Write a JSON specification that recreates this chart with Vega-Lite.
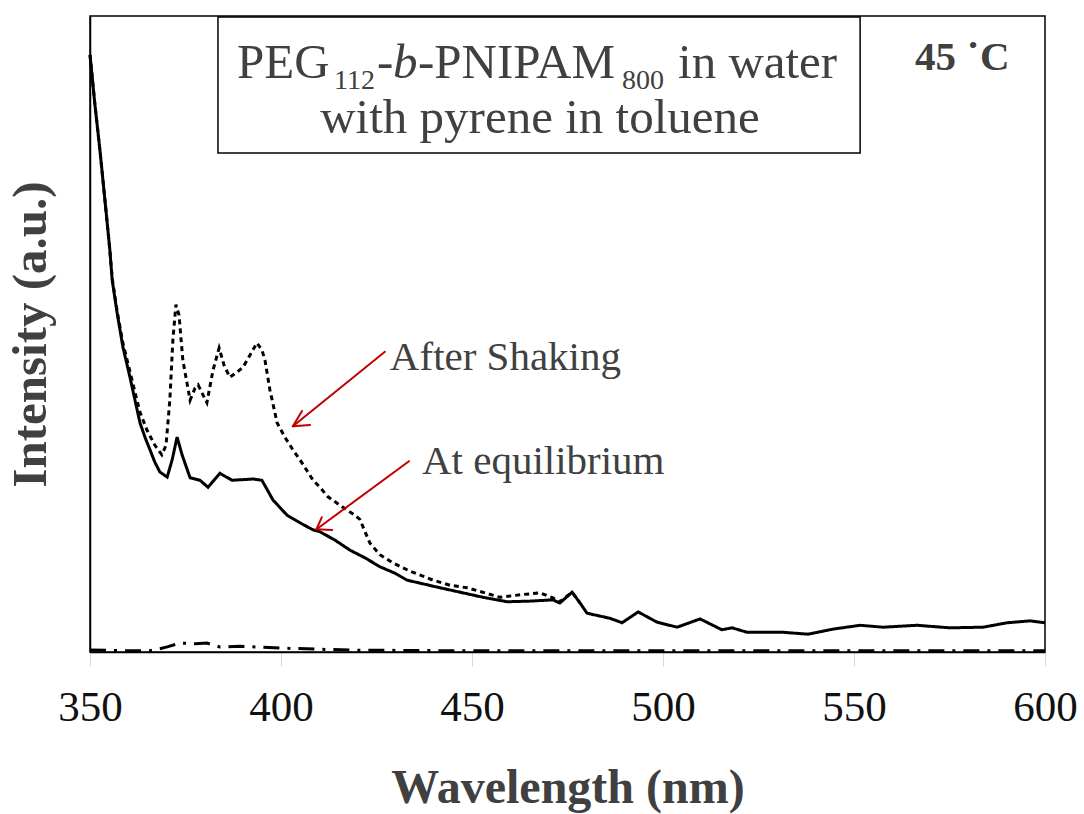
{
  "$schema": "https://vega.github.io/schema/vega-lite/v6.json",
  "autosize": {"type": "none"},
  "width": 955,
  "height": 636,
  "padding": {"left": 90, "top": 16, "right": 39, "bottom": 162},
  "background": "white",
  "config": {
    "font": "Liberation Serif",
    "view": {"stroke": "black", "strokeWidth": 1.5},
    "axis": {"grid": false}
  },
  "datasets": {
    "spectra": [
      {"series": "After Shaking", "wl": 350.0, "v": 93.9},
      {"series": "After Shaking", "wl": 351.3, "v": 86.0},
      {"series": "After Shaking", "wl": 352.6, "v": 78.9},
      {"series": "After Shaking", "wl": 353.9, "v": 71.1},
      {"series": "After Shaking", "wl": 355.2, "v": 63.2},
      {"series": "After Shaking", "wl": 355.8, "v": 58.8},
      {"series": "After Shaking", "wl": 357.1, "v": 53.6},
      {"series": "After Shaking", "wl": 358.6, "v": 48.6},
      {"series": "After Shaking", "wl": 360.5, "v": 44.0},
      {"series": "After Shaking", "wl": 362.0, "v": 40.3},
      {"series": "After Shaking", "wl": 363.1, "v": 37.7},
      {"series": "After Shaking", "wl": 364.9, "v": 34.9},
      {"series": "After Shaking", "wl": 367.0, "v": 32.5},
      {"series": "After Shaking", "wl": 368.8, "v": 31.0},
      {"series": "After Shaking", "wl": 369.9, "v": 32.5},
      {"series": "After Shaking", "wl": 370.9, "v": 39.6},
      {"series": "After Shaking", "wl": 371.7, "v": 49.1},
      {"series": "After Shaking", "wl": 372.5, "v": 54.6},
      {"series": "After Shaking", "wl": 373.3, "v": 53.0},
      {"series": "After Shaking", "wl": 374.3, "v": 45.9},
      {"series": "After Shaking", "wl": 376.2, "v": 39.6},
      {"series": "After Shaking", "wl": 377.5, "v": 41.5},
      {"series": "After Shaking", "wl": 378.3, "v": 42.0},
      {"series": "After Shaking", "wl": 379.6, "v": 40.4},
      {"series": "After Shaking", "wl": 380.6, "v": 39.2},
      {"series": "After Shaking", "wl": 382.2, "v": 44.3},
      {"series": "After Shaking", "wl": 383.8, "v": 47.8},
      {"series": "After Shaking", "wl": 385.1, "v": 45.1},
      {"series": "After Shaking", "wl": 386.6, "v": 43.2},
      {"series": "After Shaking", "wl": 388.5, "v": 44.0},
      {"series": "After Shaking", "wl": 390.1, "v": 44.8},
      {"series": "After Shaking", "wl": 391.9, "v": 46.7},
      {"series": "After Shaking", "wl": 393.7, "v": 48.6},
      {"series": "After Shaking", "wl": 395.0, "v": 47.5},
      {"series": "After Shaking", "wl": 395.8, "v": 45.9},
      {"series": "After Shaking", "wl": 397.1, "v": 41.2},
      {"series": "After Shaking", "wl": 399.0, "v": 36.0},
      {"series": "After Shaking", "wl": 401.0, "v": 33.8},
      {"series": "After Shaking", "wl": 403.1, "v": 31.8},
      {"series": "After Shaking", "wl": 405.0, "v": 30.2},
      {"series": "After Shaking", "wl": 408.4, "v": 27.0},
      {"series": "After Shaking", "wl": 410.2, "v": 25.9},
      {"series": "After Shaking", "wl": 412.3, "v": 24.4},
      {"series": "After Shaking", "wl": 415.4, "v": 23.1},
      {"series": "After Shaking", "wl": 417.3, "v": 22.3},
      {"series": "After Shaking", "wl": 419.4, "v": 21.5},
      {"series": "After Shaking", "wl": 420.7, "v": 20.8},
      {"series": "After Shaking", "wl": 422.0, "v": 18.9},
      {"series": "After Shaking", "wl": 423.3, "v": 17.1},
      {"series": "After Shaking", "wl": 425.9, "v": 15.3},
      {"series": "After Shaking", "wl": 429.3, "v": 14.0},
      {"series": "After Shaking", "wl": 433.8, "v": 12.7},
      {"series": "After Shaking", "wl": 439.8, "v": 11.3},
      {"series": "After Shaking", "wl": 444.2, "v": 10.5},
      {"series": "After Shaking", "wl": 448.7, "v": 10.1},
      {"series": "After Shaking", "wl": 453.4, "v": 9.3},
      {"series": "After Shaking", "wl": 457.3, "v": 8.6},
      {"series": "After Shaking", "wl": 462.6, "v": 9.0},
      {"series": "After Shaking", "wl": 467.8, "v": 9.3},
      {"series": "After Shaking", "wl": 471.2, "v": 8.5},
      {"series": "After Shaking", "wl": 473.0, "v": 7.9},
      {"series": "After Shaking", "wl": 476.2, "v": 9.4},
      {"series": "After Shaking", "wl": 478.3, "v": 7.7},
      {"series": "At equilibrium", "wl": 350.0, "v": 93.9},
      {"series": "At equilibrium", "wl": 351.3, "v": 86.0},
      {"series": "At equilibrium", "wl": 352.6, "v": 78.9},
      {"series": "At equilibrium", "wl": 353.9, "v": 71.1},
      {"series": "At equilibrium", "wl": 355.2, "v": 63.2},
      {"series": "At equilibrium", "wl": 355.8, "v": 58.5},
      {"series": "At equilibrium", "wl": 357.1, "v": 53.3},
      {"series": "At equilibrium", "wl": 358.6, "v": 48.0},
      {"series": "At equilibrium", "wl": 360.5, "v": 43.1},
      {"series": "At equilibrium", "wl": 362.0, "v": 39.0},
      {"series": "At equilibrium", "wl": 363.1, "v": 36.0},
      {"series": "At equilibrium", "wl": 364.5, "v": 33.6},
      {"series": "At equilibrium", "wl": 365.7, "v": 31.8},
      {"series": "At equilibrium", "wl": 367.0, "v": 29.8},
      {"series": "At equilibrium", "wl": 368.3, "v": 28.3},
      {"series": "At equilibrium", "wl": 370.2, "v": 27.5},
      {"series": "At equilibrium", "wl": 371.5, "v": 30.2},
      {"series": "At equilibrium", "wl": 372.8, "v": 33.8},
      {"series": "At equilibrium", "wl": 374.1, "v": 31.0},
      {"series": "At equilibrium", "wl": 376.2, "v": 27.4},
      {"series": "At equilibrium", "wl": 378.8, "v": 27.0},
      {"series": "At equilibrium", "wl": 380.9, "v": 25.9},
      {"series": "At equilibrium", "wl": 384.0, "v": 28.1},
      {"series": "At equilibrium", "wl": 387.2, "v": 27.0},
      {"series": "At equilibrium", "wl": 392.7, "v": 27.2},
      {"series": "At equilibrium", "wl": 395.0, "v": 27.0},
      {"series": "At equilibrium", "wl": 397.9, "v": 23.9},
      {"series": "At equilibrium", "wl": 401.6, "v": 21.5},
      {"series": "At equilibrium", "wl": 405.0, "v": 20.3},
      {"series": "At equilibrium", "wl": 408.4, "v": 19.2},
      {"series": "At equilibrium", "wl": 410.2, "v": 18.9},
      {"series": "At equilibrium", "wl": 414.1, "v": 17.6},
      {"series": "At equilibrium", "wl": 418.1, "v": 16.0},
      {"series": "At equilibrium", "wl": 422.0, "v": 14.8},
      {"series": "At equilibrium", "wl": 425.9, "v": 13.4},
      {"series": "At equilibrium", "wl": 429.8, "v": 12.4},
      {"series": "At equilibrium", "wl": 433.0, "v": 11.3},
      {"series": "At equilibrium", "wl": 441.6, "v": 10.1},
      {"series": "At equilibrium", "wl": 446.9, "v": 9.4},
      {"series": "At equilibrium", "wl": 452.9, "v": 8.6},
      {"series": "At equilibrium", "wl": 459.2, "v": 7.9},
      {"series": "At equilibrium", "wl": 465.2, "v": 8.0},
      {"series": "At equilibrium", "wl": 471.2, "v": 8.2},
      {"series": "At equilibrium", "wl": 473.0, "v": 7.7},
      {"series": "At equilibrium", "wl": 476.2, "v": 9.4},
      {"series": "At equilibrium", "wl": 478.3, "v": 7.7},
      {"series": "At equilibrium", "wl": 480.1, "v": 6.1},
      {"series": "At equilibrium", "wl": 486.1, "v": 5.3},
      {"series": "At equilibrium", "wl": 489.3, "v": 4.6},
      {"series": "At equilibrium", "wl": 493.5, "v": 6.3},
      {"series": "At equilibrium", "wl": 498.4, "v": 4.7},
      {"series": "At equilibrium", "wl": 503.7, "v": 3.9},
      {"series": "At equilibrium", "wl": 509.7, "v": 5.2},
      {"series": "At equilibrium", "wl": 515.4, "v": 3.5},
      {"series": "At equilibrium", "wl": 518.1, "v": 3.8},
      {"series": "At equilibrium", "wl": 522.0, "v": 3.1},
      {"series": "At equilibrium", "wl": 531.4, "v": 3.1},
      {"series": "At equilibrium", "wl": 538.0, "v": 2.8},
      {"series": "At equilibrium", "wl": 544.5, "v": 3.6},
      {"series": "At equilibrium", "wl": 551.6, "v": 4.2},
      {"series": "At equilibrium", "wl": 557.6, "v": 3.9},
      {"series": "At equilibrium", "wl": 566.5, "v": 4.2},
      {"series": "At equilibrium", "wl": 575.1, "v": 3.8},
      {"series": "At equilibrium", "wl": 583.8, "v": 3.9},
      {"series": "At equilibrium", "wl": 590.1, "v": 4.6},
      {"series": "At equilibrium", "wl": 596.1, "v": 4.9},
      {"series": "At equilibrium", "wl": 600.0, "v": 4.6},
      {"series": "Blank", "wl": 350.0, "v": 0.3},
      {"series": "Blank", "wl": 359.7, "v": 0.2},
      {"series": "Blank", "wl": 365.7, "v": 0.2},
      {"series": "Blank", "wl": 368.3, "v": 0.5},
      {"series": "Blank", "wl": 370.2, "v": 0.8},
      {"series": "Blank", "wl": 373.6, "v": 1.4},
      {"series": "Blank", "wl": 377.5, "v": 1.3},
      {"series": "Blank", "wl": 380.6, "v": 1.4},
      {"series": "Blank", "wl": 384.0, "v": 0.8},
      {"series": "Blank", "wl": 389.3, "v": 0.9},
      {"series": "Blank", "wl": 400.5, "v": 0.6},
      {"series": "Blank", "wl": 418.1, "v": 0.3},
      {"series": "Blank", "wl": 444.2, "v": 0.2},
      {"series": "Blank", "wl": 500.0, "v": 0.2},
      {"series": "Blank", "wl": 600.0, "v": 0.2}
    ]
  },
  "encoding": {
    "x": {
      "type": "quantitative",
      "scale": {"domain": [350, 600], "nice": false, "zero": false},
      "axis": {
        "title": "Wavelength (nm)",
        "values": [350, 400, 450, 500, 550, 600],
        "labelFont": "Liberation Serif",
        "labelFontSize": 43,
        "labelColor": "#111111",
        "labelPadding": 20,
        "labelFlush": false,
        "labelOverlap": false,
        "tickColor": "#d9d9d9",
        "tickSize": 14,
        "tickWidth": 1,
        "domainColor": "black",
        "domainWidth": 1.5,
        "titleFont": "Liberation Serif",
        "titleFontSize": 48,
        "titleFontWeight": "bold",
        "titleColor": "#404040",
        "titlePadding": 35
      }
    },
    "y": {
      "type": "quantitative",
      "scale": {"domain": [0, 100], "nice": false},
      "axis": {
        "title": "Intensity (a.u.)",
        "labels": false,
        "ticks": false,
        "domainColor": "black",
        "domainWidth": 1.5,
        "titleFont": "Liberation Serif",
        "titleFontSize": 49,
        "titleFontWeight": "bold",
        "titleColor": "#404040",
        "titlePadding": 35
      }
    }
  },
  "layer": [
    {
      "data": {"name": "spectra"},
      "mark": {"type": "line", "color": "black", "strokeWidth": 3},
      "encoding": {
        "x": {"field": "wl", "type": "quantitative"},
        "y": {"field": "v", "type": "quantitative"},
        "strokeDash": {
          "field": "series",
          "type": "nominal",
          "scale": {"domain": ["After Shaking", "At equilibrium", "Blank"], "range": [[5, 4], [1, 0], [16, 8, 3, 8]]},
          "legend": null
        },
        "order": {"field": "wl", "type": "quantitative"}
      }
    },
    {
      "data": {"values": [{"x1": 383.5, "x2": 551.6, "y1": 78.46, "y2": 99.84}]},
      "mark": {"type": "rect", "fill": "white", "stroke": "black", "strokeWidth": 1.5},
      "encoding": {
        "x": {"field": "x1", "type": "quantitative"},
        "x2": {"field": "x2"},
        "y": {"field": "y1", "type": "quantitative"},
        "y2": {"field": "y2"}
      }
    },
    {
      "data": {"values": [
        {"wl": 388.48, "v": 90.25, "t": "PEG"},
        {"wl": 425.13, "v": 90.25, "t": "-"},
        {"wl": 435.86, "v": 90.25, "t": "-PNIPAM"},
        {"wl": 503.93, "v": 90.25, "t": "in water"}
      ]},
      "mark": {"type": "text", "align": "left", "baseline": "alphabetic", "font": "Liberation Serif", "fontSize": 49, "color": "#404040"},
      "encoding": {
        "x": {"field": "wl", "type": "quantitative"},
        "y": {"field": "v", "type": "quantitative"},
        "text": {"field": "t"}
      }
    },
    {
      "data": {"values": [
        {"wl": 413.87, "v": 88.5, "t": "112"},
        {"wl": 489.27, "v": 88.5, "t": "800"}
      ]},
      "mark": {"type": "text", "align": "left", "baseline": "alphabetic", "font": "Liberation Serif", "fontSize": 28, "color": "#404040"},
      "encoding": {
        "x": {"field": "wl", "type": "quantitative"},
        "y": {"field": "v", "type": "quantitative"},
        "text": {"field": "t"}
      }
    },
    {
      "data": {"values": [{"wl": 429.32, "v": 90.25, "t": "b"}]},
      "mark": {"type": "text", "align": "left", "baseline": "alphabetic", "font": "Liberation Serif", "fontSize": 49, "fontStyle": "italic", "color": "#404040"},
      "encoding": {
        "x": {"field": "wl", "type": "quantitative"},
        "y": {"field": "v", "type": "quantitative"},
        "text": {"field": "t"}
      }
    },
    {
      "data": {"values": [{"wl": 467.8, "v": 81.6, "t": "with pyrene in toluene"}]},
      "mark": {"type": "text", "align": "center", "baseline": "alphabetic", "font": "Liberation Serif", "fontSize": 49, "color": "#404040"},
      "encoding": {
        "x": {"field": "wl", "type": "quantitative"},
        "y": {"field": "v", "type": "quantitative"},
        "text": {"field": "t"}
      }
    },
    {
      "data": {"values": [{"wl": 565.97, "v": 91.5, "t": "45 ˙C"}]},
      "mark": {"type": "text", "align": "left", "baseline": "alphabetic", "font": "Liberation Serif", "fontSize": 41, "fontWeight": "bold", "color": "#404040"},
      "encoding": {
        "x": {"field": "wl", "type": "quantitative"},
        "y": {"field": "v", "type": "quantitative"},
        "text": {"field": "t"}
      }
    },
    {
      "data": {"values": [
        {"wl": 428.5, "v": 44.3, "t": "After Shaking"},
        {"wl": 436.9, "v": 28.0, "t": "At equilibrium"}
      ]},
      "mark": {"type": "text", "align": "left", "baseline": "alphabetic", "font": "Liberation Serif", "fontSize": 41, "color": "#404040"},
      "encoding": {
        "x": {"field": "wl", "type": "quantitative"},
        "y": {"field": "v", "type": "quantitative"},
        "text": {"field": "t"}
      }
    },
    {
      "data": {"values": [
        {"a": 427.2, "b": 47.2, "c": 403.1, "d": 35.5},
        {"a": 407.6, "b": 35.7, "c": 403.1, "d": 35.5},
        {"a": 405.5, "b": 37.9, "c": 403.1, "d": 35.5},
        {"a": 433.5, "b": 30.0, "c": 409.3, "d": 19.3},
        {"a": 413.4, "b": 19.2, "c": 409.3, "d": 19.3},
        {"a": 410.7, "b": 21.2, "c": 409.3, "d": 19.3}
      ]},
      "mark": {"type": "rule", "color": "#c00000", "strokeWidth": 2, "strokeCap": "round"},
      "encoding": {
        "x": {"field": "a", "type": "quantitative"},
        "y": {"field": "b", "type": "quantitative"},
        "x2": {"field": "c"},
        "y2": {"field": "d"}
      }
    }
  ]
}
